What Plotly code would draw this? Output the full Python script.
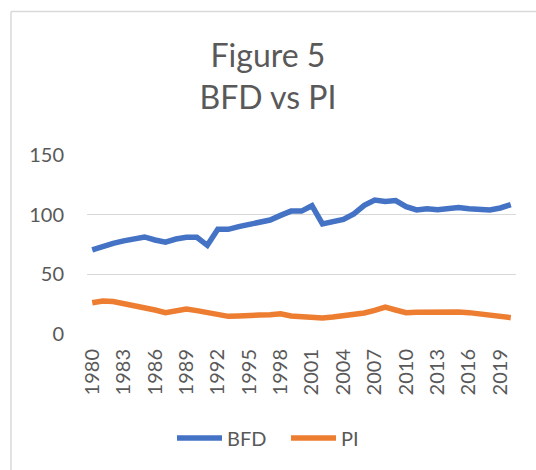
import plotly.graph_objects as go

years = list(range(1980, 2021))
bfd = [70.4, 73.7, 76.0, 78.0, 79.6, 81.3, 78.8, 77.0, 79.6, 81.0,
       81.0, 74.3, 87.7, 87.7, 90.0, 92.2, 93.9, 95.5, 99.4, 103.0,
       103.0, 107.5, 92.2, 93.6, 96.0, 100.6, 107.8, 112.3, 111.0, 111.8,
       106.7, 104.0, 105.0, 104.2, 105.0, 105.9, 105.0, 105.0, 104.0, 105.6,
       108.4]
pi = [26.2, 27.7, 27.2, 25.7, 23.5, 22.6, 20.1, 17.9, 19.3, 21.0,
      19.6, 17.9, 16.2, 14.8, 15.1, 15.9, 15.9, 16.2, 17.0, 15.1,
      14.5, 14.0, 13.4, 14.2, 15.1, 15.9, 17.6, 19.8, 22.6, 20.1,
      17.9, 18.2, 18.4, 19.0, 18.7, 18.4, 17.9, 16.8, 16.2, 15.7,
      13.7]
tick_years = list(range(1980, 2020, 3))
tick_labels = [str(y) for y in tick_years]

FONT = "Lato"
GREY = "#595959"

fig = go.Figure()
fig.add_trace(go.Scatter(x=years, y=bfd, mode="lines", name="BFD",
                         line=dict(color="#4472C4", width=5.5)))
fig.add_trace(go.Scatter(x=years, y=pi, mode="lines", name="PI",
                         line=dict(color="#ED7D31", width=5.5)))

L, R, T, B = 87, 20, 155, 136
W, H = 536, 470
pw, ph = W - L - R, H - T - B

def px2paper_x(px):
    return (px - L) / pw

def px2paper_y(py):
    return (H - B - py) / ph

# chart-area border (left and top edges visible in the reference)
fig.add_shape(type="line", xref="paper", yref="paper",
              x0=px2paper_x(11), x1=px2paper_x(11),
              y0=px2paper_y(H + 5), y1=px2paper_y(11.5),
              line=dict(color="#d9d9d9", width=1.5), layer="above")
fig.add_shape(type="line", xref="paper", yref="paper",
              x0=px2paper_x(11), x1=px2paper_x(W + 5),
              y0=px2paper_y(11.5), y1=px2paper_y(11.5),
              line=dict(color="#d9d9d9", width=1.5), layer="above")

fig.update_layout(
    width=W, height=H,
    margin=dict(l=L, r=R, t=T, b=B),
    paper_bgcolor="white", plot_bgcolor="white",
    font=dict(family=FONT, color=GREY, size=20),
    title=dict(text="Figure 5<br>BFD vs PI", x=0.5, xref="container",
               xanchor="center", y=1 - 67 / H, yref="container", yanchor="top",
               font=dict(family=FONT, size=32, color=GREY)),
    showlegend=True,
    legend=dict(orientation="h", x=172 / W, xanchor="left", xref="container",
                y=1 - 438 / H, yref="container", yanchor="middle",
                font=dict(family=FONT, size=20, color=GREY),
                itemwidth=45, entrywidth=54, entrywidthmode="pixels",
                tracegroupgap=0),
    xaxis=dict(range=[1979.5, 2020.5], tickvals=tick_years, ticktext=tick_labels,
               tickangle=-90, showgrid=False, zeroline=False, showline=False,
               ticks="", ticklabelstandoff=10,
               tickfont=dict(family=FONT, size=20, color=GREY)),
    yaxis=dict(range=[0, 150], tickvals=[0, 50, 100, 150], showgrid=True,
               gridcolor="#d9d9d9", gridwidth=1, zeroline=False, showline=False,
               ticks="", ticklabelstandoff=22,
               tickfont=dict(family=FONT, size=20, color=GREY)),
)

fig.write_html("out.html", config={"displayModeBar": False},
               post_script="document.body.style.margin='0';document.body.style.overflow='hidden';")
